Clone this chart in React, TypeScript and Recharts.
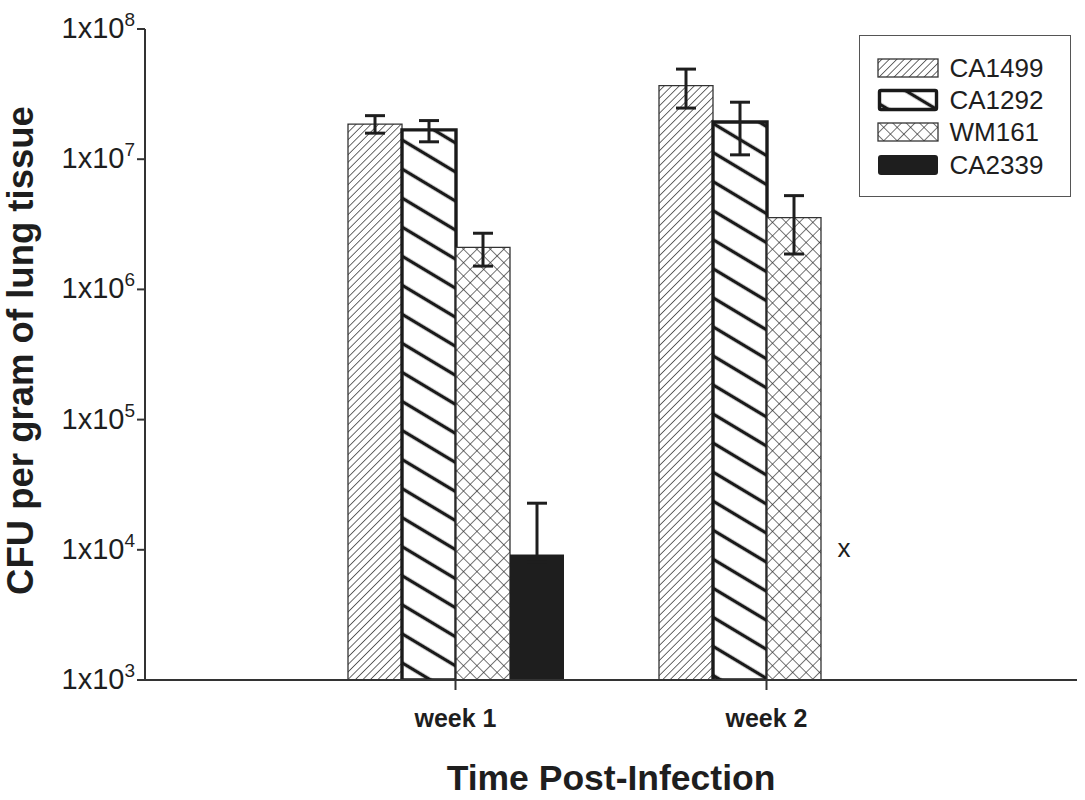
import React from "react";
import { BarChart, Bar, XAxis, YAxis, ErrorBar, Legend } from "recharts";

const weeks = ["week 1", "week 2"];
const strains = ["CA1499", "CA1292", "WM161", "CA2339"];

// CFU per gram (bar top, error bar bottom/top)
const ca1499 = [1.86e7, 3.68e7];
const ca1499Low = [1.585e7, 2.47e7];
const ca1499High = [2.16e7, 4.92e7];

const ca1292 = [1.68e7, 1.93e7];
const ca1292Low = [1.36e7, 1.08e7];
const ca1292High = [1.98e7, 2.74e7];

const wm161 = [2.1e6, 3.56e6];
const wm161Low = [1.51e6, 1.87e6];
const wm161High = [2.7e6, 5.25e6];

// week 2 CA2339 not detected, shown as an "x" at the limit
const ca2339 = [9.2e3, 1e4];
const ca2339Low = [8e3, null];
const ca2339High = [2.28e4, null];
const ca2339Detected = [true, false];

const yTicks = [1e3, 1e4, 1e5, 1e6, 1e7, 1e8];

const ink = "#1e1e1e";
const font = "'Liberation Sans', Arial, sans-serif";

const errOf = (v: number, lo: number | null, hi: number | null) =>
  lo == null || hi == null ? null : [v - lo, hi - v];

const data = weeks.map((week, i) => ({
  week,
  CA1499: ca1499[i],
  CA1499err: errOf(ca1499[i], ca1499Low[i], ca1499High[i]),
  CA1292: ca1292[i],
  CA1292err: errOf(ca1292[i], ca1292Low[i], ca1292High[i]),
  WM161: wm161[i],
  WM161err: errOf(wm161[i], wm161Low[i], wm161High[i]),
  CA2339: ca2339[i],
  CA2339err: errOf(ca2339[i], ca2339Low[i], ca2339High[i]),
}));

const fills: Record<string, string> = {
  CA1499: "url(#hatch1499)",
  CA1292: "url(#hatch1292)",
  WM161: "url(#cross161)",
  CA2339: ink,
};

function Patterns() {
  return (
    <svg width={0} height={0} style={{ position: "absolute" }}>
      <defs>
        <pattern id="hatch1499" patternUnits="userSpaceOnUse" width={5.3} height={5.3} patternTransform="rotate(45)">
          <rect width={5.3} height={5.3} fill="#fff" />
          <line x1={0} y1={0} x2={0} y2={5.3} stroke="#2a2a2a" strokeWidth={1.4} />
        </pattern>
        <pattern id="hatch1292" patternUnits="userSpaceOnUse" width={10} height={24.9} patternTransform="rotate(31)">
          <rect width={10} height={24.9} fill="#fff" />
          <line x1={0} y1={12.45} x2={10} y2={12.45} stroke="#1a1a1a" strokeWidth={3.4} />
        </pattern>
        <pattern id="cross161" patternUnits="userSpaceOnUse" width={9.5} height={9.5} patternTransform="rotate(45)">
          <rect width={9.5} height={9.5} fill="#fff" />
          <line x1={0} y1={0} x2={0} y2={9.5} stroke="#2a2a2a" strokeWidth={1.3} />
          <line x1={0} y1={0} x2={9.5} y2={0} stroke="#2a2a2a" strokeWidth={1.3} />
        </pattern>
      </defs>
    </svg>
  );
}

const LogTick = ({ x, y, payload }: any) => {
  const exp = Math.round(Math.log10(payload.value));
  return (
    <text x={x} y={y} dy={9} textAnchor="end" fill={ink} style={{ fontSize: 29, fontFamily: font }}>
      1x10
      <tspan dy={-12} style={{ fontSize: 19 }}>
        {exp}
      </tspan>
    </text>
  );
};

const WeekTick = ({ x, y, payload }: any) => (
  <text x={x} y={y} dy={35} textAnchor="middle" fill={ink} style={{ fontSize: 25, fontWeight: "bold", fontFamily: font }}>
    {payload.value}
  </text>
);

const YTitle = ({ viewBox }: any) => {
  const vb = viewBox || { x: 10, y: 29, width: 135, height: 651 };
  const bx = vb.x + 23;
  const cy = vb.y + vb.height / 2 - 4;
  return (
    <text x={bx} y={cy} transform={`rotate(-90 ${bx} ${cy})`} textAnchor="middle" fill={ink} style={{ fontSize: 36.5, fontWeight: "bold", fontFamily: font }}>
      CFU per gram of lung tissue
    </text>
  );
};

const XTitle = ({ viewBox }: any) => {
  const vb = viewBox || { x: 145, y: 680, width: 932, height: 110 };
  return (
    <text x={vb.x + vb.width / 2} y={vb.y + vb.height} textAnchor="middle" fill={ink} style={{ fontSize: 35.5, fontWeight: "bold", fontFamily: font }}>
      Time Post-Infection
    </text>
  );
};

const Ca2339Shape = (props: any) => {
  const { x, y, width, height, index } = props;
  if (!ca2339Detected[index]) {
    return (
      <text x={x + width / 2 - 4} y={y} dy={7} textAnchor="middle" fill={ink} style={{ fontSize: 26, fontFamily: font }}>
        x
      </text>
    );
  }
  return <rect x={x} y={y} width={width} height={height} fill={fills.CA2339} />;
};

function Swatch({ name }: { name: string }) {
  if (name === "CA2339") return <rect x={1} y={2} width={60} height={20} rx={3} fill={fills.CA2339} />;
  if (name === "CA1292")
    return <rect x={2.5} y={2.5} width={57} height={19} rx={1.5} fill={fills.CA1292} stroke="#1a1a1a" strokeWidth={3.4} />;
  return <rect x={1} y={3} width={60} height={18} fill={fills[name]} stroke="#333" strokeWidth={1.3} />;
}

const StrainLegend = () => (
  <div
    style={{
      width: 212,
      height: 162,
      boxSizing: "border-box",
      border: "1.5px solid #555",
      paddingTop: 15.5,
      paddingLeft: 16.5,
      background: "#fff",
      fontFamily: font,
    }}
  >
    {strains.map((s) => (
      <div key={s} style={{ display: "flex", alignItems: "center", height: 32.3 }}>
        <svg width={62} height={24} style={{ display: "block" }}>
          <Swatch name={s} />
        </svg>
        <span style={{ marginLeft: 11, fontSize: 26, color: ink, lineHeight: 1 }}>{s}</span>
      </div>
    ))}
  </div>
);

const axisStroke = { stroke: "#333", strokeWidth: 2 };

export default function App() {
  return (
    <div style={{ position: "absolute", left: 0, top: 0, fontFamily: font, background: "#fff" }}>
      <Patterns />
      <BarChart
        width={1085}
        height={800}
        data={data}
        margin={{ top: 29, right: 8, left: 10, bottom: 10 }}
        barGap={0}
        barSize={54}
      >
        <XAxis
          dataKey="week"
          interval={0}
          padding={{ left: 155, right: 155 }}
          height={110}
          tickSize={10}
          tickLine={axisStroke}
          axisLine={axisStroke}
          tick={<WeekTick />}
          label={{ content: <XTitle /> }}
        />
        <XAxis xAxisId="top" orientation="top" dataKey="week" height={0} tick={false} tickLine={false} axisLine={axisStroke} />
        <YAxis
          type="number"
          scale="log"
          domain={[1e3, 1e8]}
          ticks={yTicks}
          allowDataOverflow
          width={135}
          tickSize={8}
          tickLine={axisStroke}
          axisLine={axisStroke}
          tick={<LogTick />}
          label={{ content: <YTitle /> }}
        />
        <YAxis yAxisId="right" orientation="right" width={0} tick={false} tickLine={false} axisLine={axisStroke} />
        <Legend
          layout="vertical"
          align="center"
          verticalAlign="middle"
          wrapperStyle={{ left: 859, top: 35, width: 212, height: 162 }}
          content={<StrainLegend />}
        />
        <Bar dataKey="CA1499" fill={fills.CA1499} stroke="#333" strokeWidth={1.3} isAnimationActive={false}>
          <ErrorBar dataKey="CA1499err" width={10} strokeWidth={3} stroke={ink} />
        </Bar>
        <Bar dataKey="CA1292" fill={fills.CA1292} stroke="#1a1a1a" strokeWidth={3.4} isAnimationActive={false}>
          <ErrorBar dataKey="CA1292err" width={10} strokeWidth={3} stroke={ink} />
        </Bar>
        <Bar dataKey="WM161" fill={fills.WM161} stroke="#333" strokeWidth={1.3} isAnimationActive={false}>
          <ErrorBar dataKey="WM161err" width={10} strokeWidth={3} stroke={ink} />
        </Bar>
        <Bar dataKey="CA2339" fill={fills.CA2339} shape={<Ca2339Shape />} isAnimationActive={false}>
          <ErrorBar dataKey="CA2339err" width={10} strokeWidth={3} stroke={ink} />
        </Bar>
      </BarChart>
    </div>
  );
}
